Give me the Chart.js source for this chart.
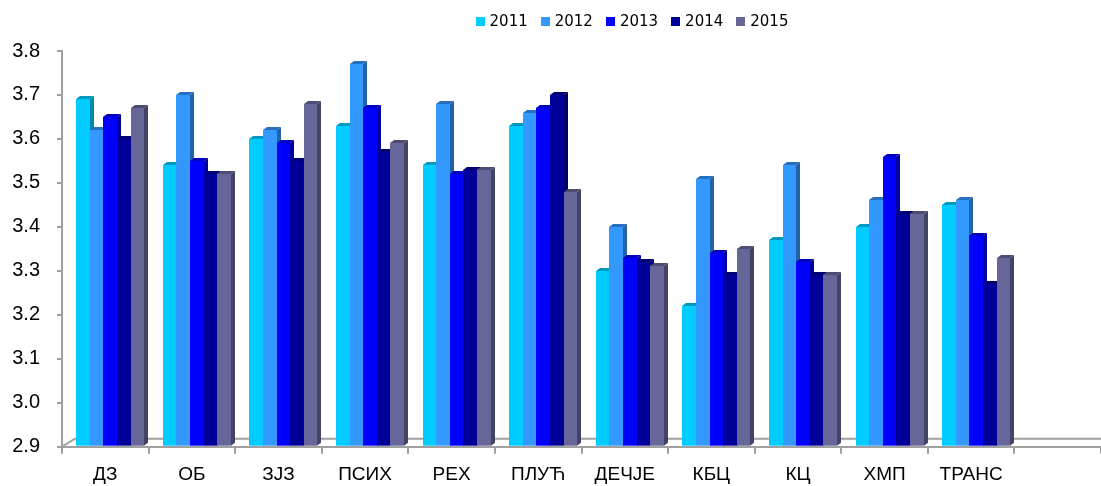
<!DOCTYPE html>
<html>
<head>
<meta charset="utf-8">
<script src="https://cdn.jsdelivr.net/npm/chart.js@4.4.0/dist/chart.umd.min.js"></script>
<style>
  html, body { margin: 0; padding: 0; background: #fff; }
  #wrap { width: 1101px; height: 486px; }
</style>
</head>
<body>
<div id="wrap"><canvas id="chart" width="1101" height="486"></canvas></div>
<script>
// --- datos ---
const categories = ['ДЗ', 'ОБ', 'ЗЈЗ', 'ПСИХ', 'РЕХ', 'ПЛУЋ', 'ДЕЧЈЕ', 'КБЦ', 'КЦ', 'ХМП', 'ТРАНС', ''];
const years = ['2011', '2012', '2013', '2014', '2015'];
const v2011 = [3.69, 3.54, 3.60, 3.63, 3.54, 3.63, 3.30, 3.22, 3.37, 3.40, 3.45];
const v2012 = [3.62, 3.70, 3.62, 3.77, 3.68, 3.66, 3.40, 3.51, 3.54, 3.46, 3.46];
const v2013 = [3.65, 3.55, 3.59, 3.67, 3.52, 3.67, 3.33, 3.34, 3.32, 3.56, 3.38];
const v2014 = [3.60, 3.52, 3.55, 3.57, 3.53, 3.70, 3.32, 3.29, 3.29, 3.43, 3.27];
const v2015 = [3.67, 3.52, 3.68, 3.59, 3.53, 3.48, 3.31, 3.35, 3.29, 3.43, 3.33];
const yTicks = [2.9, 3.0, 3.1, 3.2, 3.3, 3.4, 3.5, 3.6, 3.7, 3.8];

// colores: frente, tapa, lado
const frontColors = ['#00CCFF', '#3399FF', '#0000FF', '#000099', '#666699'];
const topColors   = ['#0099BF', '#2670BF', '#0000BF', '#000073', '#4D4D73'];
const sideColors  = ['#0088AA', '#2262A6', '#0000A6', '#000066', '#434366'];

const GRAY = '#A0A0A0';
const DX = 4, DY = 3;      // profundidad 3D de las barras
const SHIFT = 5;           // desplazamiento del grupo por la perspectiva

const series = [v2011, v2012, v2013, v2014, v2015];

// dibuja las barras con efecto 3D (frente, tapa, lado)
const bars3d = {
  id: 'bars3d',
  beforeDatasetsDraw(chart) {
    const { ctx, chartArea } = chart;
    ctx.save();
    // piso: borde trasero y diagonal
    ctx.strokeStyle = GRAY;
    ctx.lineWidth = 2;
    ctx.beginPath();
    ctx.moveTo(chartArea.left, chartArea.bottom);
    ctx.lineTo(chartArea.left + 13, chartArea.bottom - 8);
    ctx.lineTo(chartArea.right, chartArea.bottom - 8);
    ctx.stroke();

    const n = chart.data.labels.length;
    for (let i = 0; i < n; i++) {
      chart.data.datasets.forEach((ds, d) => {
        const bar = chart.getDatasetMeta(d).data[i];
        if (!bar || ds.data[i] == null) return;
        const p = bar.getProps(['x', 'y', 'base', 'width'], true);
        const l = Math.round(p.x - p.width / 2 + SHIFT);
        const r = Math.round(p.x + p.width / 2 + SHIFT);
        const t = Math.round(p.y);
        const b = Math.min(p.base, chartArea.bottom - 1);
        // frente
        ctx.fillStyle = frontColors[d];
        ctx.fillRect(l, t, r - l, b - t);
        // tapa
        ctx.fillStyle = topColors[d];
        ctx.beginPath();
        ctx.moveTo(l, t);
        ctx.lineTo(l + DX, t - DY);
        ctx.lineTo(r + DX, t - DY);
        ctx.lineTo(r, t);
        ctx.closePath();
        ctx.fill();
        // lado
        ctx.fillStyle = sideColors[d];
        ctx.beginPath();
        ctx.moveTo(r, t);
        ctx.lineTo(r + DX, t - DY);
        ctx.lineTo(r + DX, b - DY);
        ctx.lineTo(r, b);
        ctx.closePath();
        ctx.fill();
      });
    }
    ctx.restore();
    return false; // no dibujar las barras planas
  },
  afterDraw(chart) {
    // leyenda arriba, centrada sobre x=632
    const ctx = chart.ctx;
    ctx.save();
    ctx.font = '15px "DejaVu Sans"';
    ctx.textBaseline = 'middle';
    const box = 9, gapText = 5, gapItem = 13;
    const widths = chart.data.datasets.map(ds => ctx.measureText(ds.label).width);
    let total = 0;
    widths.forEach((w, k) => { total += box + gapText + w + (k < widths.length - 1 ? gapItem : 0); });
    let x = 632 - total / 2;
    const y = 22;
    chart.data.datasets.forEach((ds, k) => {
      ctx.fillStyle = frontColors[k];
      ctx.fillRect(Math.round(x), y - 5, box, box);
      ctx.fillStyle = '#000';
      ctx.fillText(ds.label, x + box + gapText, y);
      x += box + gapText + widths[k] + gapItem;
    });
    ctx.restore();
  }
};

const ctx = document.getElementById('chart');
new Chart(ctx, {
  type: 'bar',
  data: {
    labels: categories,
    datasets: years.map((yr, k) => ({
      label: yr,
      data: series[k],
      backgroundColor: frontColors[k],
      categoryPercentage: 0.785,
      barPercentage: 1.0
    }))
  },
  options: {
    responsive: false,
    animation: false,
    devicePixelRatio: 1,
    layout: { padding: { top: 51, right: 0, bottom: 0, left: 0 } },
    plugins: {
      legend: { display: false },
      tooltip: { enabled: false }
    },
    scales: {
      x: {
        grid: { drawOnChartArea: false, offset: true, tickLength: 7, color: GRAY, lineWidth: 2 },
        border: { color: GRAY, width: 2 },
        ticks: { font: { family: 'Liberation Sans', size: 19 }, color: '#000', padding: 10, maxRotation: 0, autoSkip: false },
        afterFit(scale) { scale.height = 39.3; }
      },
      y: {
        min: yTicks[0],
        max: yTicks[yTicks.length - 1],
        afterBuildTicks(scale) { scale.ticks = yTicks.map(v => ({ value: v })); },
        grid: { drawOnChartArea: false, tickLength: 5, color: GRAY, lineWidth: 2 },
        border: { color: GRAY, width: 2 },
        ticks: {
          font: { family: 'Liberation Sans', size: 20 },
          color: '#000',
          padding: 17,
          callback: v => v.toFixed(1)
        },
        afterFit(scale) { scale.width = 62; }
      }
    }
  },
  plugins: [bars3d]
});
</script>
</body>
</html>
